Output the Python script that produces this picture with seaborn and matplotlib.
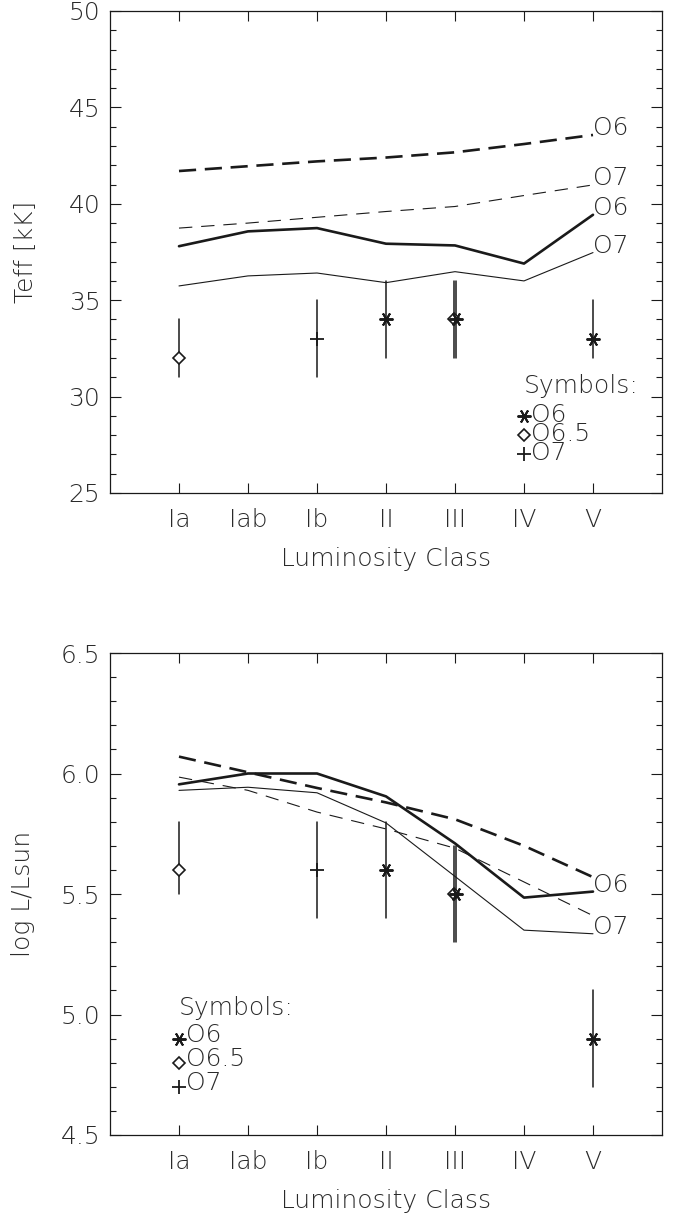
import matplotlib
matplotlib.use("Agg")
import matplotlib.pyplot as plt
import seaborn as sns
import numpy as np
from matplotlib.ticker import MultipleLocator, FixedLocator

sns.set_theme(style="ticks")
plt.rcParams['font.family'] = ['DejaVu Sans']

# ---------------- data ----------------
classes = ["Ia", "Iab", "Ib", "II", "III", "IV", "V"]
xpos = [1, 2, 3, 4, 5, 6, 7]

# Teff [kK]
teff_o6_dashed = [41.7, 41.95, 42.2, 42.4, 42.67, 43.1, 43.57]
teff_o7_dashed = [38.74, 39.0, 39.3, 39.6, 39.86, 40.43, 40.98]
teff_o6_solid = [37.8, 38.57, 38.74, 37.93, 37.84, 36.9, 39.43]
teff_o7_solid = [35.74, 36.26, 36.41, 35.91, 36.48, 36.0, 37.47]

# log L/Lsun
logl_o6_dashed = [6.07, 6.005, 5.94, 5.88, 5.81, 5.70, 5.57]
logl_o7_dashed = [5.985, 5.93, 5.84, 5.77, 5.69, 5.55, 5.41]
logl_o6_solid = [5.955, 6.0, 6.0, 5.905, 5.71, 5.485, 5.51]
logl_o7_solid = [5.93, 5.943, 5.92, 5.795, 5.573, 5.35, 5.335]

# observed stars: x, symbol (spectral type), value, low, high
obs_x = [1, 3, 4, 4.98, 5.02, 7]
obs_type = ["O6.5", "O7", "O6", "O6.5", "O6", "O6"]
obs_teff = [32, 33, 34, 34, 34, 33]
obs_teff_lo = [31, 31, 32, 32, 32, 32]
obs_teff_hi = [34, 35, 36, 36, 36, 35]
obs_logl = [5.6, 5.6, 5.6, 5.5, 5.5, 4.9]
obs_logl_lo = [5.5, 5.4, 5.4, 5.3, 5.3, 4.7]
obs_logl_hi = [5.8, 5.8, 5.8, 5.7, 5.7, 5.1]

legend_types = ["O6", "O6.5", "O7"]

# ---------------- style ----------------
FS = 18
TXT = dict(fontsize=FS, fontweight="light", color="#2a2a2a")
MARKERS = {"O6": dict(marker=(6, 2, 90), ms=10, mew=1.4, mfc="k", mec="k"),
           "O6.5": dict(marker="D", ms=6.5, mew=1.2, mfc="white", mec="k"),
           "O7": dict(marker="+", ms=9.5, mew=1.3, mfc="k", mec="k")}
THICK, THIN = 1.9, 0.8

fig = plt.figure(figsize=(6.73, 12.17), dpi=100)
ax1 = fig.add_axes([110/673, 1-493/1217, 552/673, 482/1217])
ax2 = fig.add_axes([110/673, 1-1135/1217, 552/673, 482/1217])


def draw_lines(ax, d6, d7, s6, s7):
    sns.lineplot(x=xpos, y=d6, ax=ax, color="k", lw=THICK, ls=(0, (6.5, 3.3)), sort=False, legend=False)
    sns.lineplot(x=xpos, y=d7, ax=ax, color="k", lw=THIN, ls=(0, (12, 8)), sort=False, legend=False)
    sns.lineplot(x=xpos, y=s6, ax=ax, color="k", lw=THICK, sort=False, legend=False)
    sns.lineplot(x=xpos, y=s7, ax=ax, color="k", lw=THIN, sort=False, legend=False)


def draw_obs(ax, vals, lo, hi):
    for x, t, v, l, h in zip(obs_x, obs_type, vals, lo, hi):
        ax.plot([x, x], [l, h], color="k", lw=1.1, zorder=3)
        ax.plot([x], [v], ls="none", zorder=4, **MARKERS[t])


def style_axes(ax, ymin, ymax, major, minor):
    ax.set_xlim(0, 8)
    ax.set_ylim(ymin, ymax)
    ax.xaxis.set_major_locator(FixedLocator(xpos))
    ax.set_xticklabels(classes, **TXT)
    ax.yaxis.set_major_locator(MultipleLocator(major))
    ax.yaxis.set_minor_locator(MultipleLocator(minor))
    ax.tick_params(which="both", direction="in", top=True, right=True, color="k")
    ax.tick_params(axis="y", which="major", length=8, width=0.8, pad=7)
    ax.tick_params(axis="y", which="minor", length=4.5, width=0.8)
    ax.tick_params(axis="x", which="major", length=7, width=0.8, pad=11)
    for s in ax.spines.values():
        s.set_linewidth(0.9)
        s.set_color("k")
    ax.set_xlabel("Luminosity Class", **TXT)
    ax.xaxis.set_label_coords(0.5, -0.112)
    ax.xaxis.label.set_va("top")


def style_yticklabels(ax):
    for lab in ax.get_yticklabels():
        lab.set_fontsize(FS)
        lab.set_fontweight("light")
        lab.set_color("#2a2a2a")


# ----- top panel -----
draw_lines(ax1, teff_o6_dashed, teff_o7_dashed, teff_o6_solid, teff_o7_solid)
draw_obs(ax1, obs_teff, obs_teff_lo, obs_teff_hi)
style_axes(ax1, 25, 50, 5, 1)
style_yticklabels(ax1)
ax1.set_ylabel("Teff [kK]", **TXT)
ax1.yaxis.set_label_coords(-0.13, 0.5)
for arr, lab in [(teff_o6_dashed, "O6"), (teff_o7_dashed, "O7"),
                 (teff_o6_solid, "O6"), (teff_o7_solid, "O7")]:
    ax1.text(xpos[-1], arr[-1], lab, ha="left", va="baseline", **TXT)
ax1.text(6.0, 30.2, "Symbols:", ha="left", va="baseline", **TXT)
for i, t in enumerate(legend_types):
    yy = 29 - i
    ax1.plot([6.0], [yy], ls="none", zorder=4, **MARKERS[t])
    ax1.text(6.1, yy - 0.3, t, ha="left", va="baseline", **TXT)

# ----- bottom panel -----
draw_lines(ax2, logl_o6_dashed, logl_o7_dashed, logl_o6_solid, logl_o7_solid)
draw_obs(ax2, obs_logl, obs_logl_lo, obs_logl_hi)
style_axes(ax2, 4.5, 6.5, 0.5, 0.1)
ax2.yaxis.set_major_formatter(matplotlib.ticker.FormatStrFormatter("%.1f"))
style_yticklabels(ax2)
ax2.set_ylabel("log L/Lsun", **TXT)
ax2.yaxis.set_label_coords(-0.135, 0.5)
ax2.text(xpos[-1], logl_o6_solid[-1], "O6", ha="left", va="baseline", **TXT)
ax2.text(xpos[-1], logl_o7_solid[-1], "O7", ha="left", va="baseline", **TXT)
ax2.text(1.0, 5.0, "Symbols:", ha="left", va="baseline", **TXT)
for i, t in enumerate(legend_types):
    yy = 4.9 - 0.1 * i
    ax2.plot([1.0], [yy], ls="none", zorder=4, **MARKERS[t])
    ax2.text(1.1, yy - 0.015, t, ha="left", va="baseline", **TXT)

fig.savefig("out.png", dpi=100)
